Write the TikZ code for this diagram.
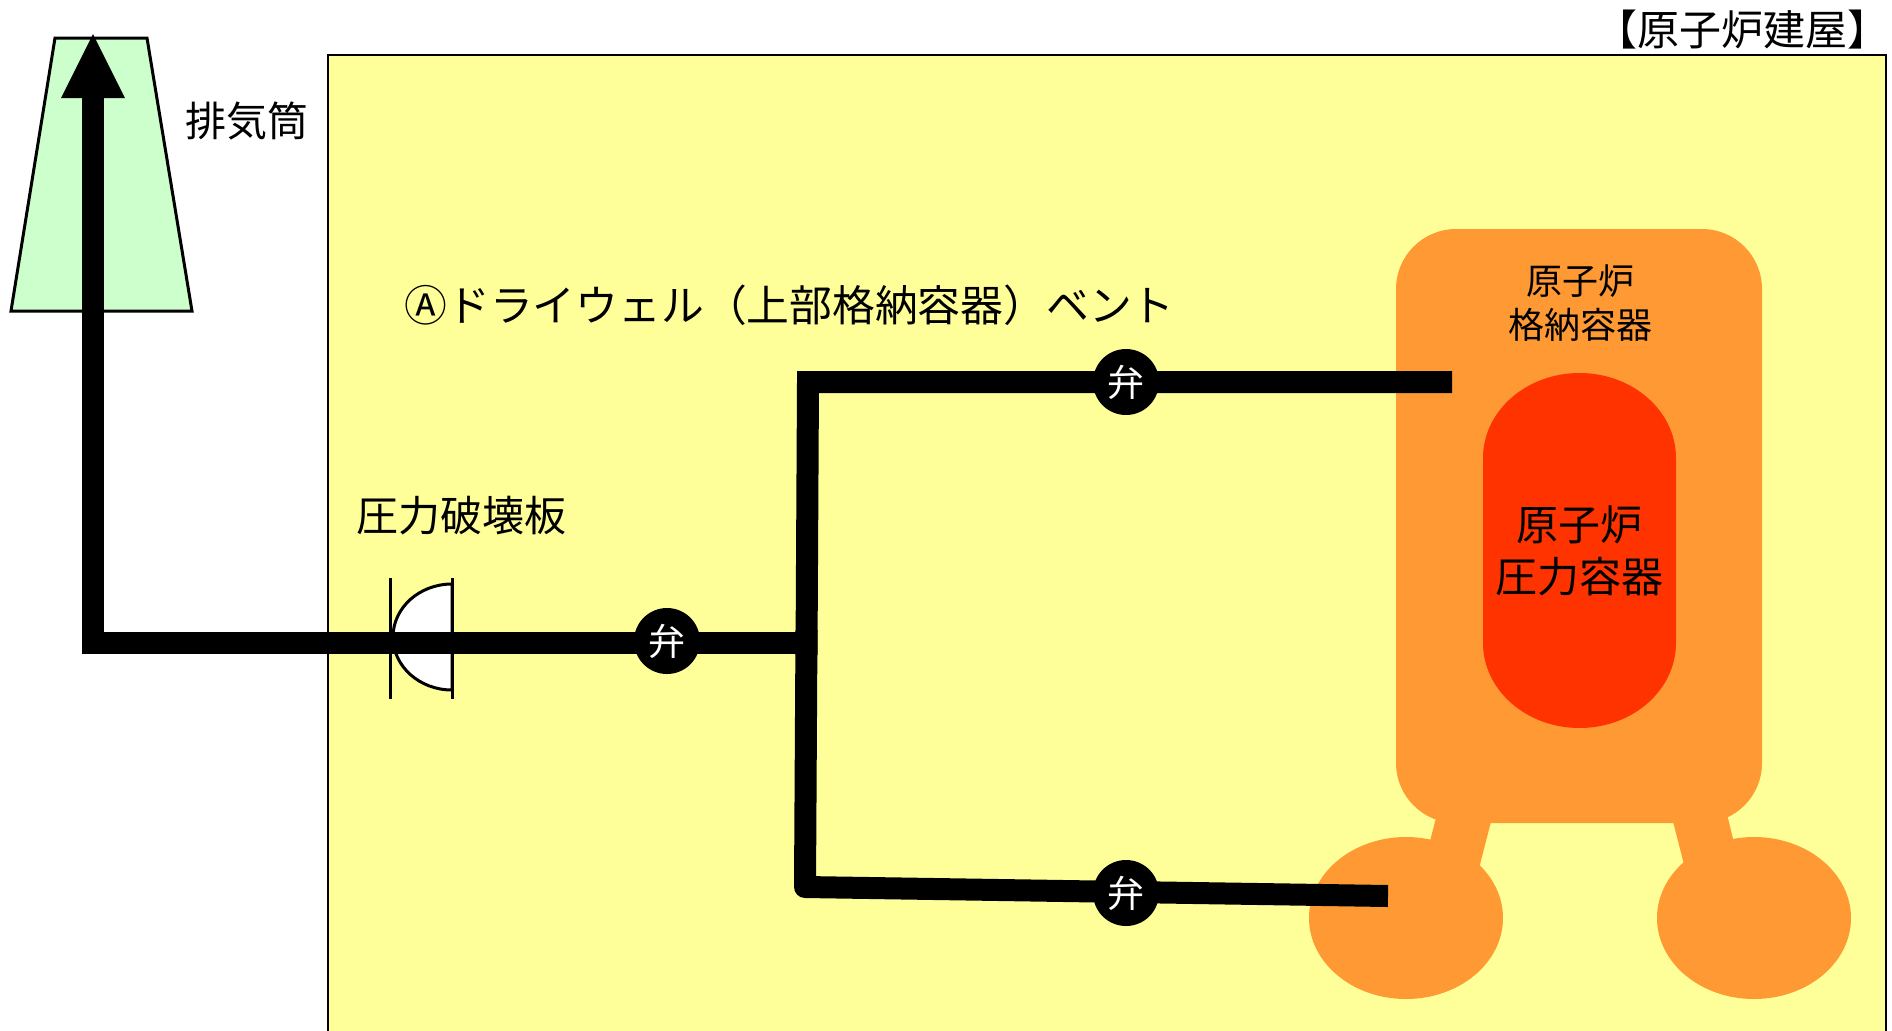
\documentclass[tikz,border=0pt]{standalone}
\usepackage{fontspec}
\setmainfont{Noto Sans CJK JP}
\definecolor{bldg}{HTML}{FFFF99}
\definecolor{pcv}{HTML}{FF9933}
\definecolor{rpv}{HTML}{FF3300}
\definecolor{stackgreen}{HTML}{CCFFCC}
\begin{document}
\begin{tikzpicture}[x=0.5pt,y=-0.5pt,
  pipe/.style={line width=11pt, line cap=butt},
  valve/.style={circle, fill=black, text=white, minimum size=33pt, inner sep=0pt,
                font=\fontsize{18.5}{18.5}\selectfont},
  txt/.style={inner sep=0pt, text=black}]
\useasboundingbox (0,0) rectangle (1892,1030);

% reactor building
\filldraw[fill=bldg, draw=black, line width=1pt] (328,55) rectangle (1886,1060);
\node[txt, font=\fontsize{21}{21}\selectfont] (bldglabel) at (1742,30) {【原子炉建屋】};

% exhaust stack
\filldraw[fill=stackgreen, draw=black, line width=1.5pt]
  (55,38) -- (147,38) -- (192,311) -- (11,311) -- cycle;
\node[txt, font=\fontsize{20.5}{20.5}\selectfont] (stacklabel) at (247,121) {排気筒};

% primary containment vessel: body, legs and suppression chambers
\fill[pcv, rounded corners=30pt] (1396,229) rectangle (1762,823);
\fill[pcv] (1438,810) -- (1494,810) -- (1476,880) -- (1420,880) -- cycle;
\fill[pcv] (1670,810) -- (1726,810) -- (1743,880) -- (1688,880) -- cycle;
\fill[pcv] (1406,918) ellipse [x radius=97, y radius=81];
\fill[pcv] (1754,918) ellipse [x radius=97, y radius=81];

% reactor pressure vessel
\fill[rpv] (1483,458) arc[start angle=180, end angle=360, x radius=96.5, y radius=85]
  -- (1676,643) arc[start angle=0, end angle=180, x radius=96.5, y radius=85] -- cycle;

\node[txt, align=center, font=\fontsize{18}{22}\selectfont] (pcvlabel) at (1580,303) {原子炉\\格納容器};
\node[txt, align=center, font=\fontsize{21}{26}\selectfont] (rpvlabel) at (1579,551) {原子炉\\圧力容器};

% labels
\node[txt, anchor=west, font=\fontsize{21.4}{21.4}\selectfont] (ventlabel) at (404,305) {Ⓐドライウェル（上部格納容器）ベント};
\node[txt, font=\fontsize{21}{21}\selectfont] (disclabel) at (461,516) {圧力破壊板};

% rupture disc
\filldraw[fill=white, draw=black, line width=1.5pt]
  (452,584) arc[start angle=270, end angle=90, x radius=59, y radius=53] -- cycle;

% vent line
\coordinate (stacktop) at (93,98);
\coordinate (elbow) at (93,643);
\coordinate (tee) at (806,643);
\coordinate (dwtop) at (808,382);
\coordinate (dwend) at (1452,382);
\coordinate (wwcorner) at (805,887);
\coordinate (wwend) at (1388,896);

\draw[pipe, line join=miter] (stacktop) -- (elbow) -- (tee);
\draw[pipe, line join=miter] (dwend) -- (dwtop) -- (806.5,655);
\draw[pipe, line join=round] (806.5,630) -- (wwcorner) -- (wwend);

% arrow head at the stack outlet
\fill[black] (93,34) -- (125,98) -- (61,98) -- cycle;

% rupture disc holders
\draw[line width=1.5pt] (390,578) -- (390,699) (452,578) -- (452,699);

% valves
\node[valve] (v1) at (667,641) {弁};
\node[valve] (v2) at (1126,382) {弁};
\node[valve] (v3) at (1126,893) {弁};
\end{tikzpicture}
\end{document}
